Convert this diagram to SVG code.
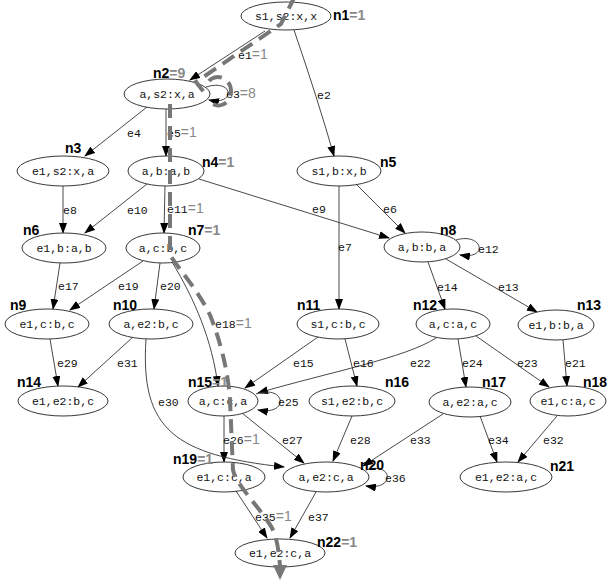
<svg xmlns="http://www.w3.org/2000/svg" width="610" height="585" viewBox="0 0 610 585">
<style>
.nd ellipse{fill:#fff;stroke:#222;stroke-width:0.9}
.nt{font-family:"Liberation Mono","DejaVu Sans Mono",monospace;font-size:11.5px;fill:#111;text-anchor:middle}
.nl{font-family:"Liberation Sans",Arial,sans-serif;font-size:14px;font-weight:bold;fill:#000}
.cnt{font-family:"Liberation Sans",Arial,sans-serif;font-size:14px;fill:#888}
.el{font-family:"Liberation Mono","DejaVu Sans Mono",monospace;font-size:11.5px;fill:#111}
.e path{fill:none;stroke:#333;stroke-width:0.9;marker-end:url(#ah)}
.trace{fill:none;stroke:#777;stroke-width:4;stroke-dasharray:14 8}
</style>
<defs>
<marker id="ah" markerUnits="userSpaceOnUse" markerWidth="11" markerHeight="8" refX="10" refY="4" orient="auto">
<path d="M0,0 L11,4 L0,8 z" fill="#000"/>
</marker>
</defs>
<rect width="610" height="585" fill="#fff"/>
<g id="edges" class="e">
<path id="e1" d="M265,31 L190,80"/>
<path id="e2" d="M294,30 Q318,100 334,156"/>
<path id="e3" d="M206,87 C234,78 236,106 209,100"/>
<path id="e4" d="M147,107 L85,156"/>
<path id="e5" d="M166,109 L166,156"/>
<path id="e6" d="M356,184 L405,233"/>
<path id="e7" d="M339,186 L339,309"/>
<path id="e8" d="M63,186 L63,233"/>
<path id="e9" d="M199,179 L389,238"/>
<path id="e10" d="M147,184 L85,233"/>
<path id="e11" d="M165,186 L164,233"/>
<path id="e12" d="M456,240 C482,232 490,260 460,255"/>
<path id="e13" d="M446,259 L537,312"/>
<path id="e14" d="M428,262 L445,309"/>
<path id="e15" d="M318,337 L245,388"/>
<path id="e16" d="M345,339 L357,386"/>
<path id="e17" d="M60,263 L53,309"/>
<path id="e18" d="M172,262 C195,300 212,340 218,386"/>
<path id="e19" d="M143,261 L70,310"/>
<path id="e20" d="M160,263 L154,309"/>
<path id="e21" d="M563,340 L567,386"/>
<path id="e22" d="M436,338 C405,358 330,372 258,393"/>
<path id="e23" d="M476,336 L549,387"/>
<path id="e24" d="M458,339 L466,387"/>
<path id="e25" d="M256,394 C286,384 290,416 258,410"/>
<path id="e26" d="M224,416 L224,462"/>
<path id="e27" d="M242,413 L304,463"/>
<path id="e28" d="M352,416 L333,461"/>
<path id="e29" d="M50,339 L58,386"/>
<path id="e30" d="M146,339 C140,430 175,455 284,467"/>
<path id="e31" d="M133,337 L78,387"/>
<path id="e32" d="M557,416 L518,462"/>
<path id="e33" d="M443,414 L363,466"/>
<path id="e34" d="M480,416 L497,462"/>
<path id="e35" d="M236,491 L267,538"/>
<path id="e36" d="M366,470 C393,461 396,491 366,486"/>
<path id="e37" d="M316,492 L290,538"/>
</g>
<g id="edge-labels">
<text class="el" x="238" y="59">e1<tspan class="cnt">=1</tspan></text>
<text class="el" x="317" y="99">e2</text>
<text class="el" x="226" y="98">e3<tspan class="cnt">=8</tspan></text>
<text class="el" x="127" y="137">e4</text>
<text class="el" x="167" y="137">e5<tspan class="cnt">=1</tspan></text>
<text class="el" x="383" y="213">e6</text>
<text class="el" x="338" y="251">e7</text>
<text class="el" x="63" y="214">e8</text>
<text class="el" x="312" y="213">e9</text>
<text class="el" x="127" y="214">e10</text>
<text class="el" x="167" y="213">e11<tspan class="cnt">=1</tspan></text>
<text class="el" x="478" y="253">e12</text>
<text class="el" x="498" y="291">e13</text>
<text class="el" x="437" y="291">e14</text>
<text class="el" x="293" y="367">e15</text>
<text class="el" x="353" y="367">e16</text>
<text class="el" x="58" y="290">e17</text>
<text class="el" x="215" y="328">e18<tspan class="cnt">=1</tspan></text>
<text class="el" x="118" y="290">e19</text>
<text class="el" x="160" y="290">e20</text>
<text class="el" x="565" y="367">e21</text>
<text class="el" x="410" y="367">e22</text>
<text class="el" x="517" y="367">e23</text>
<text class="el" x="462" y="367">e24</text>
<text class="el" x="278" y="406">e25</text>
<text class="el" x="223" y="444">e26<tspan class="cnt">=1</tspan></text>
<text class="el" x="282" y="444">e27</text>
<text class="el" x="350" y="444">e28</text>
<text class="el" x="57" y="367">e29</text>
<text class="el" x="158" y="406">e30</text>
<text class="el" x="117" y="367">e31</text>
<text class="el" x="543" y="444">e32</text>
<text class="el" x="410" y="444">e33</text>
<text class="el" x="488" y="444">e34</text>
<text class="el" x="255" y="521">e35<tspan class="cnt">=1</tspan></text>
<text class="el" x="385" y="482">e36</text>
<text class="el" x="308" y="521">e37</text>
</g>
<g id="n1" class="nd"><ellipse cx="286" cy="16" rx="45" ry="14"/><text class="nt" x="286" y="20">s1,s2:x,x</text><text class="nl" x="333" y="20">n1<tspan class="cnt">=1</tspan></text></g>
<g id="n2" class="nd"><ellipse cx="167" cy="94" rx="43" ry="15"/><text class="nt" x="167" y="98">a,s2:x,a</text><text class="nl" x="153" y="78">n2<tspan class="cnt">=9</tspan></text></g>
<g id="n3" class="nd"><ellipse cx="63" cy="171" rx="46" ry="15"/><text class="nt" x="63" y="175">e1,s2:x,a</text><text class="nl" x="65" y="153">n3</text></g>
<g id="n4" class="nd"><ellipse cx="166" cy="171" rx="38" ry="15"/><text class="nt" x="166" y="175">a,b:a,b</text><text class="nl" x="202" y="167">n4<tspan class="cnt">=1</tspan></text></g>
<g id="n5" class="nd"><ellipse cx="339" cy="171" rx="42" ry="15"/><text class="nt" x="339" y="175">s1,b:x,b</text><text class="nl" x="380" y="167">n5</text></g>
<g id="n6" class="nd"><ellipse cx="64" cy="248" rx="42" ry="15"/><text class="nt" x="64" y="252">e1,b:a,b</text><text class="nl" x="23" y="235">n6</text></g>
<g id="n7" class="nd"><ellipse cx="163" cy="248" rx="37" ry="15"/><text class="nt" x="163" y="252">a,c:b,c</text><text class="nl" x="188" y="235">n7<tspan class="cnt">=1</tspan></text></g>
<g id="n8" class="nd"><ellipse cx="422" cy="247" rx="38" ry="15"/><text class="nt" x="422" y="251">a,b:b,a</text><text class="nl" x="440" y="235">n8</text></g>
<g id="n9" class="nd"><ellipse cx="47" cy="324" rx="42" ry="15"/><text class="nt" x="47" y="328">e1,c:b,c</text><text class="nl" x="10" y="310">n9</text></g>
<g id="n10" class="nd"><ellipse cx="151" cy="324" rx="42" ry="15"/><text class="nt" x="151" y="328">a,e2:b,c</text><text class="nl" x="113" y="310">n10</text></g>
<g id="n11" class="nd"><ellipse cx="338" cy="324" rx="41" ry="15"/><text class="nt" x="338" y="328">s1,c:b,c</text><text class="nl" x="297" y="310">n11</text></g>
<g id="n12" class="nd"><ellipse cx="453" cy="324" rx="37" ry="15"/><text class="nt" x="453" y="328">a,c:a,c</text><text class="nl" x="413" y="310">n12</text></g>
<g id="n13" class="nd"><ellipse cx="556" cy="325" rx="38" ry="15"/><text class="nt" x="556" y="329">e1,b:b,a</text><text class="nl" x="577" y="310">n13</text></g>
<g id="n14" class="nd"><ellipse cx="63" cy="401" rx="45" ry="15"/><text class="nt" x="63" y="405">e1,e2:b,c</text><text class="nl" x="17" y="387">n14</text></g>
<g id="n15" class="nd"><ellipse cx="223" cy="401" rx="35" ry="15"/><text class="nt" x="223" y="405">a,c:c,a</text><text class="nl" x="188" y="387">n15<tspan class="cnt">=1</tspan></text></g>
<g id="n16" class="nd"><ellipse cx="352" cy="401" rx="43" ry="15"/><text class="nt" x="352" y="405">s1,e2:b,c</text><text class="nl" x="385" y="387">n16</text></g>
<g id="n17" class="nd"><ellipse cx="470" cy="402" rx="41" ry="15"/><text class="nt" x="470" y="406">a,e2:a,c</text><text class="nl" x="482" y="387">n17</text></g>
<g id="n18" class="nd"><ellipse cx="568" cy="401" rx="38" ry="15"/><text class="nt" x="568" y="405">e1,c:a,c</text><text class="nl" x="583" y="387">n18</text></g>
<g id="n19" class="nd"><ellipse cx="224" cy="477" rx="41" ry="15"/><text class="nt" x="224" y="481">e1,c:c,a</text><text class="nl" x="173" y="464">n19<tspan class="cnt">=1</tspan></text></g>
<g id="n20" class="nd"><ellipse cx="326" cy="477" rx="43" ry="15"/><text class="nt" x="326" y="481">a,e2:c,a</text><text class="nl" x="360" y="470">n20</text></g>
<g id="n21" class="nd"><ellipse cx="506" cy="477" rx="46" ry="15"/><text class="nt" x="506" y="481">e1,e2:a,c</text><text class="nl" x="550" y="471">n21</text></g>
<g id="n22" class="nd"><ellipse cx="280" cy="553" rx="45" ry="14"/><text class="nt" x="280" y="557">e1,e2:c,a</text><text class="nl" x="317" y="547">n22<tspan class="cnt">=1</tspan></text></g>
<g id="trace">
<path class="trace" d="M295,-4 L281,24 L196,82 L207,96"/>
<path class="trace" d="M209,81 C214,74 230,76 231,90 C232,106 214,110 209,100"/>
<path class="trace" d="M170,104 L170,255 C178,268 198,290 210,315 C220,340 228,370 230,400 L233,470 C236,485 262,510 272,528 C278,540 279,555 280,566"/>
<polygon points="273,565 287,565 280,580" fill="#777"/>
</g>
</svg>
